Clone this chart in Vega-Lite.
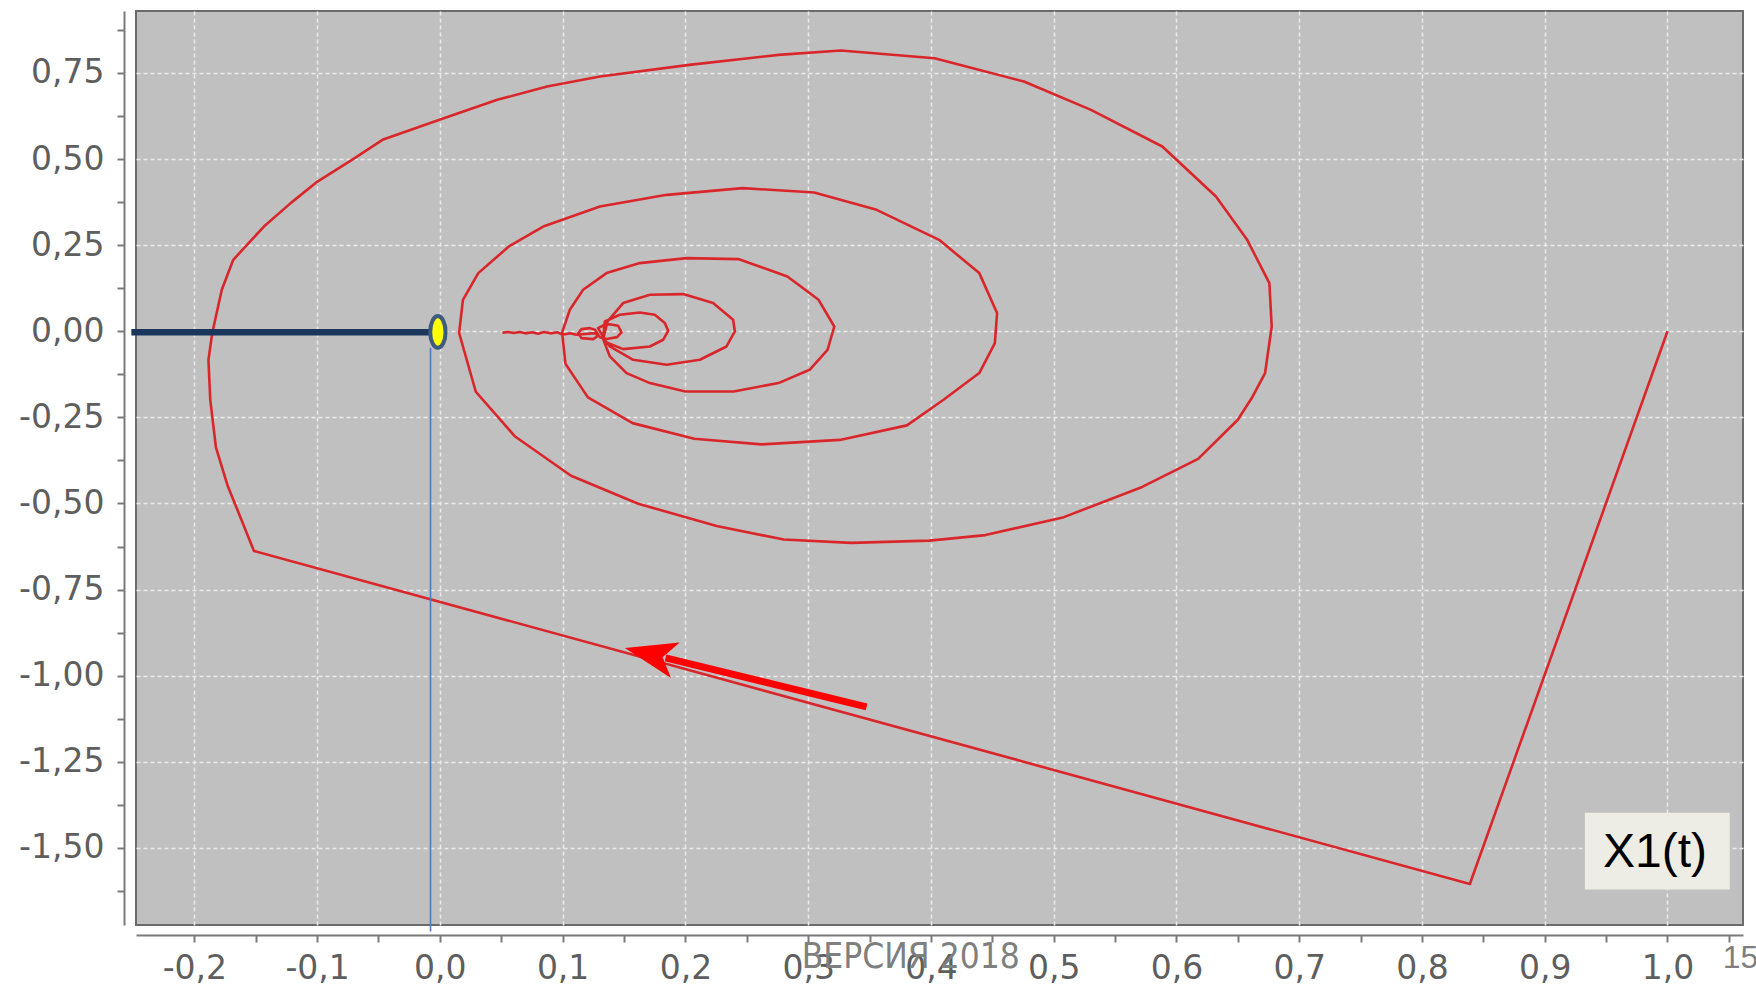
{
  "$schema": "https://vega.github.io/schema/vega-lite/v6.json",
  "autosize": {"type": "none"},
  "padding": {"left": 136, "top": 11, "right": 13, "bottom": 65},
  "width": 1607,
  "height": 914,
  "background": "#ffffff",
  "config": {
    "view": {"fill": "#c0c0c0", "stroke": "#6b6b6b", "strokeWidth": 2},
    "axis": {"domainColor": "#7a7a7a", "domainWidth": 2, "tickColor": "#7a7a7a", "tickWidth": 2, "labelFont": "DejaVu Sans", "labelFontSize": 33, "labelColor": "#5e5e5e", "gridColor": "#ebebeb", "gridDash": [4, 3], "gridWidth": 1.5, "labelOverlap": false, "labelFlush": false, "labelBound": false, "title": null}
  },
  "datasets": {
    "curve": [
      {"i":1,"x":1.0,"y":0.0},{"i":2,"x":0.839,"y":-1.605},{"i":3,"x":-0.1514,"y":-0.6377},{"i":4,"x":-0.173,"y":-0.447},{"i":5,"x":-0.1824,"y":-0.337},{"i":6,"x":-0.187,"y":-0.199},{"i":7,"x":-0.1885,"y":-0.083},{"i":8,"x":-0.1854,"y":-0.005},{"i":9,"x":-0.1776,"y":0.1205},{"i":10,"x":-0.1683,"y":0.2075},
      {"i":11,"x":-0.1433,"y":0.3042},{"i":12,"x":-0.1215,"y":0.3721},{"i":13,"x":-0.0997,"y":0.4348},{"i":14,"x":-0.0716,"y":0.4978},{"i":15,"x":-0.0467,"y":0.5559},{"i":16,"x":0.0032,"y":0.6188},{"i":17,"x":0.0468,"y":0.672},{"i":18,"x":0.0874,"y":0.7106},{"i":19,"x":0.1304,"y":0.7396},{"i":20,"x":0.2031,"y":0.7736},
      {"i":21,"x":0.2758,"y":0.8026},{"i":22,"x":0.3267,"y":0.8151},{"i":23,"x":0.403,"y":0.793},{"i":24,"x":0.4758,"y":0.7251},{"i":25,"x":0.5304,"y":0.643},{"i":26,"x":0.5885,"y":0.5365},{"i":27,"x":0.6322,"y":0.3913},{"i":28,"x":0.6576,"y":0.2656},{"i":29,"x":0.6757,"y":0.1399},{"i":30,"x":0.6776,"y":0.0139},
      {"i":31,"x":0.6722,"y":-0.1213},{"i":32,"x":0.662,"y":-0.19},{"i":33,"x":0.65,"y":-0.257},{"i":34,"x":0.6177,"y":-0.3707},{"i":35,"x":0.5721,"y":-0.452},{"i":36,"x":0.5083,"y":-0.5397},{"i":37,"x":0.4444,"y":-0.5918},{"i":38,"x":0.3988,"y":-0.608},{"i":39,"x":0.3349,"y":-0.6145},{"i":40,"x":0.2802,"y":-0.6047},
      {"i":41,"x":0.2255,"y":-0.5657},{"i":42,"x":0.1616,"y":-0.5007},{"i":43,"x":0.1069,"y":-0.4195},{"i":44,"x":0.0613,"y":-0.3057},{"i":45,"x":0.0293,"y":-0.1756},{"i":46,"x":0.0157,"y":-0.005},{"i":47,"x":0.0188,"y":0.0914},{"i":48,"x":0.0313,"y":0.1689},{"i":49,"x":0.0562,"y":0.2462},{"i":50,"x":0.0842,"y":0.3042},
      {"i":51,"x":0.1304,"y":0.3623},{"i":52,"x":0.1849,"y":0.3962},{"i":53,"x":0.2467,"y":0.4157},{"i":54,"x":0.3049,"y":0.4029},{"i":55,"x":0.3558,"y":0.3527},{"i":56,"x":0.4067,"y":0.2656},{"i":57,"x":0.4394,"y":0.1689},{"i":58,"x":0.4539,"y":0.0528},{"i":59,"x":0.4521,"y":-0.0343},{"i":60,"x":0.4394,"y":-0.1213},
      {"i":61,"x":0.4103,"y":-0.1988},{"i":62,"x":0.3805,"y":-0.2732},{"i":63,"x":0.3258,"y":-0.3154},{"i":64,"x":0.262,"y":-0.3284},{"i":65,"x":0.2072,"y":-0.3121},{"i":66,"x":0.157,"y":-0.2667},{"i":67,"x":0.1206,"y":-0.1919},{"i":68,"x":0.1023,"y":-0.0943},{"i":69,"x":0.0996,"y":-0.003},{"i":70,"x":0.1059,"y":0.0624},
      {"i":71,"x":0.1167,"y":0.1205},{"i":72,"x":0.1358,"y":0.1689},{"i":73,"x":0.1629,"y":0.198},{"i":74,"x":0.2009,"y":0.2125},{"i":75,"x":0.2431,"y":0.2096},{"i":76,"x":0.2831,"y":0.1591},{"i":77,"x":0.3085,"y":0.0914},{"i":78,"x":0.3213,"y":0.0139},{"i":79,"x":0.3158,"y":-0.0537},{"i":80,"x":0.3012,"y":-0.1118},
      {"i":81,"x":0.2758,"y":-0.1504},{"i":82,"x":0.2394,"y":-0.1747},{"i":83,"x":0.2,"y":-0.175},{"i":84,"x":0.1711,"y":-0.1504},{"i":85,"x":0.1521,"y":-0.1214},{"i":86,"x":0.1385,"y":-0.0731},{"i":87,"x":0.133,"y":-0.0227},{"i":88,"x":0.1366,"y":0.0285},{"i":89,"x":0.1493,"y":0.0819},{"i":90,"x":0.1711,"y":0.106},
      {"i":91,"x":0.1982,"y":0.108},{"i":92,"x":0.2226,"y":0.0819},{"i":93,"x":0.2389,"y":0.0334},{"i":94,"x":0.2403,"y":-0.0006},{"i":95,"x":0.2335,"y":-0.0441},{"i":96,"x":0.2118,"y":-0.0827},{"i":97,"x":0.1847,"y":-0.0972},{"i":98,"x":0.1575,"y":-0.0827},{"i":99,"x":0.1385,"y":-0.0441},{"i":100,"x":0.133,"y":-0.0198},
      {"i":101,"x":0.1344,"y":0.0285},{"i":102,"x":0.1466,"y":0.0479},{"i":103,"x":0.1629,"y":0.0547},{"i":104,"x":0.1751,"y":0.0479},{"i":105,"x":0.1833,"y":0.0237},{"i":106,"x":0.186,"y":0.0014},{"i":107,"x":0.1819,"y":-0.0247},{"i":108,"x":0.1711,"y":-0.0441},{"i":109,"x":0.1493,"y":-0.0518},{"i":110,"x":0.1358,"y":-0.0324},
      {"i":111,"x":0.1325,"y":-0.0131},{"i":112,"x":0.1289,"y":0.0092},{"i":113,"x":0.1358,"y":0.0218},{"i":114,"x":0.1452,"y":0.016},{"i":115,"x":0.148,"y":-0.0034},{"i":116,"x":0.1444,"y":-0.017},{"i":117,"x":0.1358,"y":-0.0227},{"i":118,"x":0.1303,"y":-0.017},{"i":119,"x":0.1263,"y":0.0043},{"i":120,"x":0.1222,"y":0.0092},
      {"i":121,"x":0.1154,"y":0.0063},{"i":122,"x":0.1127,"y":-0.0053},{"i":123,"x":0.1154,"y":-0.0198},{"i":124,"x":0.1249,"y":-0.0227},{"i":125,"x":0.1289,"y":-0.0131},{"i":126,"x":0.1263,"y":-0.0053},{"i":127,"x":0.1113,"y":-0.0102},{"i":128,"x":0.106,"y":-0.006},{"i":129,"x":0.1,"y":-0.01},{"i":130,"x":0.096,"y":-0.003},
      {"i":131,"x":0.09,"y":-0.006},{"i":132,"x":0.085,"y":-0.002},{"i":133,"x":0.08,"y":-0.007},{"i":134,"x":0.075,"y":-0.003},{"i":135,"x":0.07,"y":-0.006},{"i":136,"x":0.065,"y":-0.002},{"i":137,"x":0.06,"y":-0.005},{"i":138,"x":0.056,"y":-0.002},{"i":139,"x":0.051,"y":-0.004}
    ],
    "box": [{"x": 0.9327, "x2": 1.0507, "y": -1.398, "y2": -1.621}],
    "boxlabel": [{"x": 0.9898, "y": -1.5556, "label": "X1(t)"}],
    "shaft": [{"x": 0.3476, "y": -1.0909, "x2": 0.1839, "y2": -0.9486}],
    "tip": [{"x": 0.1507, "y": -0.9196}],
    "hline": [{"x": -0.2513, "x2": -0.0016, "y": -0.003}],
    "vline": [{"x": -0.0076, "y": -0.048, "y2": -1.743}],
    "marker": [{"x": -0.0016, "y": -0.002}],
    "version": [{"x": 0.3836, "y": -1.8476, "label": "ВЕРСИЯ 2018"}],
    "page": [{"x": 1.045, "y": -1.8476, "label": "15"}]
  },
  "encoding": {
    "x": {
      "field": "x", "type": "quantitative",
      "scale": {"domain": [-0.2475, 1.0615], "nice": false, "zero": false},
      "axis": {
        "values": [-0.25,-0.2,-0.15,-0.1,-0.05,0,0.05,0.1,0.15,0.2,0.25,0.3,0.35,0.4,0.45,0.5,0.55,0.6,0.65,0.7,0.75,0.8,0.85,0.9,0.95,1,1.05],
        "offset": 10, "tickSize": 7, "labelPadding": 10,
        "labelExpr": "abs(datum.value*10-round(datum.value*10))<0.001 ? replace(replace(format(datum.value,'.1f'),'.',','),'\u2212','-') : ''",
        "grid": true,
        "gridOpacity": {"condition": {"test": "abs(datum.value*10-round(datum.value*10))<0.001", "value": 1}, "value": 0}
      }
    },
    "y": {
      "field": "y", "type": "quantitative",
      "scale": {"domain": [-1.724, 0.93], "nice": false, "zero": false},
      "axis": {
        "values": [-1.625,-1.5,-1.375,-1.25,-1.125,-1,-0.875,-0.75,-0.625,-0.5,-0.375,-0.25,-0.125,0,0.125,0.25,0.375,0.5,0.625,0.75,0.875],
        "offset": 12, "tickSize": 7, "labelPadding": 13,
        "labelExpr": "abs(datum.value*4-round(datum.value*4))<0.001 ? replace(replace(format(datum.value,'.2f'),'.',','),'\u2212','-') : ''",
        "grid": true,
        "gridOpacity": {"condition": {"test": "abs(datum.value*4-round(datum.value*4))<0.001", "value": 1}, "value": 0}
      }
    }
  },
  "layer": [
    {
      "data": {"name": "curve"},
      "mark": {"type": "line", "color": "#d9262b", "strokeWidth": 2.6, "strokeJoin": "round"},
      "encoding": {"order": {"field": "i", "type": "quantitative"}}
    },
    {
      "data": {"name": "box"},
      "mark": {"type": "rect", "fill": "#eeede5"},
      "encoding": {"x2": {"field": "x2"}, "y2": {"field": "y2"}}
    },
    {
      "data": {"name": "boxlabel"},
      "mark": {"type": "text", "font": "Liberation Sans", "fontSize": 48, "color": "#000000", "align": "center", "baseline": "alphabetic"},
      "encoding": {"text": {"field": "label"}}
    },
    {
      "data": {"name": "shaft"},
      "mark": {"type": "rule", "color": "#ff0000", "strokeWidth": 7, "strokeCap": "butt"},
      "encoding": {"x2": {"field": "x2"}, "y2": {"field": "y2"}}
    },
    {
      "data": {"name": "tip"},
      "mark": {"type": "point", "shape": "M0,0L1,-0.352L0.746,0L1,0.352Z", "size": 10816, "angle": 13.7, "filled": true, "fill": "#ff0000", "strokeWidth": 0, "opacity": 1}
    },
    {
      "data": {"name": "vline"},
      "mark": {"type": "rule", "color": "#4a7cc4", "strokeWidth": 1.6},
      "encoding": {"y2": {"field": "y2"}}
    },
    {
      "data": {"name": "hline"},
      "mark": {"type": "rule", "color": "#1b365d", "strokeWidth": 6.5, "strokeCap": "butt"},
      "encoding": {"x2": {"field": "x2"}}
    },
    {
      "data": {"name": "marker"},
      "mark": {"type": "point", "shape": "M0,-1C0.2668,-1 0.483,-0.5523 0.483,0C0.483,0.5523 0.2668,1 0,1C-0.2668,1 -0.483,0.5523 -0.483,0C-0.483,-0.5523 -0.2668,-1 0,-1Z", "size": 1005, "filled": true, "fill": "#ffff00", "stroke": "#3d5a80", "strokeWidth": 4, "opacity": 1}
    },
    {
      "data": {"name": "version"},
      "mark": {"type": "text", "font": "Liberation Sans Narrow, Arial Narrow, DejaVu Sans Condensed, Liberation Sans", "fontSize": 35, "color": "#7f7f7f", "align": "center", "baseline": "alphabetic"},
      "encoding": {"text": {"field": "label"}}
    },
    {
      "data": {"name": "page"},
      "mark": {"type": "text", "font": "Liberation Sans", "fontSize": 32, "color": "#7f7f7f", "align": "left", "baseline": "alphabetic"},
      "encoding": {"text": {"field": "label"}}
    }
  ]
}
